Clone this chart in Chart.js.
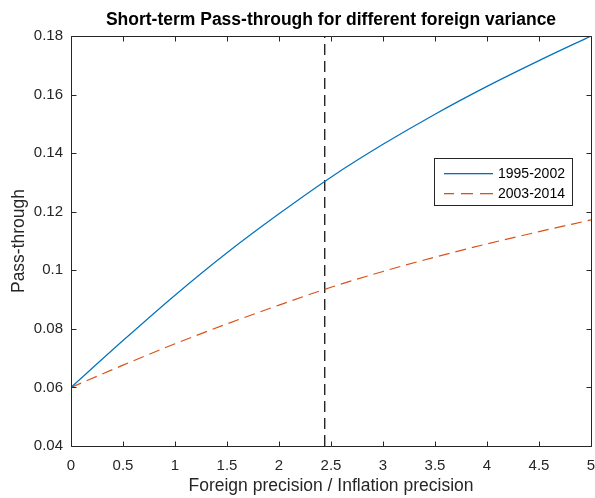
<!DOCTYPE html>
<html>
<head>
<meta charset="utf-8">
<script src="https://cdn.jsdelivr.net/npm/chart.js@4"></script>
<style>
html,body{margin:0;padding:0;background:#fff;}
#wrap{width:595px;height:498px;}
</style>
</head>
<body>
<div id="wrap"><canvas id="c" width="595" height="498"></canvas></div>
<script>
// ---- data ----
const xValues = [0, 0.5, 1, 1.5, 2, 2.5, 3, 3.5, 4, 4.5, 5];
const series1995 = [0.0600, 0.0760, 0.0915, 0.1060, 0.1193, 0.1318, 0.1430, 0.1533, 0.1628, 0.1716, 0.1800];
const series2003 = [0.0600, 0.0676, 0.0749, 0.0817, 0.0881, 0.0942, 0.0996, 0.1045, 0.1090, 0.1132, 0.1172];
const markerX = 2.44;
const seriesNames = ['1995-2002', '2003-2014'];
const xTicks = [0, 0.5, 1, 1.5, 2, 2.5, 3, 3.5, 4, 4.5, 5];
const yTicks = [0.04, 0.06, 0.08, 0.10, 0.12, 0.14, 0.16, 0.18];
const titleText = 'Short-term Pass-through for different foreign variance';
const xTitle = 'Foreign precision / Inflation precision';
const yTitle = 'Pass-through';

const BLUE = '#0072BD', ORANGE = '#D95319', AX = '#262626';
const FONT = "'Liberation Sans', Arial, Helvetica, sans-serif";

const toPts = (ys) => xValues.map((x, i) => ({x: x, y: ys[i]}));
const fmt = (v) => String(+(+v).toFixed(2));

const boxPlugin = {
  id: 'matlabBox',
  afterDatasetsDraw(chart) {
    const {ctx, chartArea: a, scales: {x, y}} = chart;
    ctx.save();
    ctx.setLineDash([]);
    ctx.strokeStyle = AX;
    ctx.lineWidth = 1;
    const L = Math.round(a.left) + 0.5, R = Math.round(a.right) + 0.5;
    const T = Math.round(a.top) + 0.5, B = Math.round(a.bottom) + 0.5;
    ctx.beginPath();
    ctx.rect(L, T, R - L, B - T);
    const tl = 5;
    xTicks.forEach(v => {
      const px = Math.round(x.getPixelForValue(v)) + 0.5;
      ctx.moveTo(px, B); ctx.lineTo(px, B - tl);
      ctx.moveTo(px, T); ctx.lineTo(px, T + tl);
    });
    yTicks.forEach(v => {
      const py = Math.round(y.getPixelForValue(v)) + 0.5;
      ctx.moveTo(L, py); ctx.lineTo(L + tl, py);
      ctx.moveTo(R, py); ctx.lineTo(R - tl, py);
    });
    ctx.stroke();

    // title centred over the plot area
    ctx.fillStyle = '#000';
    ctx.font = 'bold 17.5px ' + FONT;
    ctx.textAlign = 'center';
    ctx.textBaseline = 'middle';
    ctx.fillText(titleText, (a.left + a.right) / 2, 20);

    // legend
    const lx = 434.5, ly = 158.5, lw = 138, lh = 47;
    ctx.fillStyle = '#fff';
    ctx.fillRect(lx, ly, lw, lh);
    ctx.strokeStyle = AX;
    ctx.lineWidth = 1;
    ctx.strokeRect(lx, ly, lw, lh);
    const rows = [
      {name: seriesNames[0], color: BLUE, segs: [[444, 493]]},
      {name: seriesNames[1], color: ORANGE, segs: [[444, 454], [461, 473], [480, 493]]}
    ];
    ctx.font = '14px ' + FONT;
    ctx.textBaseline = 'middle';
    ctx.textAlign = 'left';
    rows.forEach((r, i) => {
      const cy = 173 + i * 20;
      ctx.fillStyle = r.color;
      r.segs.forEach(s => ctx.fillRect(s[0], cy, s[1] - s[0], 1.3));
      ctx.fillStyle = '#000';
      ctx.fillText(r.name, 498, cy + 1);
    });
    ctx.restore();
  }
};

new Chart(document.getElementById('c'), {
  type: 'line',
  data: {
    datasets: [
      {label: seriesNames[0], data: toPts(series1995), borderColor: BLUE, borderWidth: 1.2,
       pointRadius: 0, cubicInterpolationMode: 'monotone', fill: false},
      {label: seriesNames[1], data: toPts(series2003), borderColor: ORANGE, borderWidth: 1.2,
       borderDash: [11, 6], pointRadius: 0, cubicInterpolationMode: 'monotone', fill: false},
      {label: 'marker', data: [{x: markerX, y: yTicks[0]}, {x: markerX, y: yTicks[yTicks.length - 1]}],
       borderColor: '#000', borderWidth: 1.2, borderDash: [11, 6], pointRadius: 0, fill: false}
    ]
  },
  options: {
    responsive: false,
    animation: false,
    devicePixelRatio: 1,
    layout: {padding: {top: 36, right: 4, left: 0, bottom: 0}},
    plugins: {
      legend: {display: false},
      tooltip: {enabled: false},
      title: {display: false}
    },
    scales: {
      x: {
        type: 'linear', min: 0, max: 5,
        afterFit: (s) => { s.height = 52; s.paddingLeft = 0; s.paddingRight = 0; },
        afterBuildTicks: (s) => { s.ticks = xTicks.map(v => ({value: v})); },
        grid: {display: false, drawTicks: false},
        border: {display: false},
        ticks: {color: AX, font: {family: FONT, size: 15}, padding: 11, maxRotation: 0, autoSkip: false,
          callback: fmt},
        title: {display: true, text: xTitle, color: AX, font: {family: FONT, size: 17.5},
          padding: {top: 0, bottom: 1}}
      },
      y: {
        type: 'linear', min: 0.04, max: 0.18,
        afterFit: (s) => { s.width = 71; s.paddingTop = 0; s.paddingBottom = 0; },
        afterBuildTicks: (s) => { s.ticks = yTicks.map(v => ({value: v})); },
        grid: {display: false, drawTicks: false},
        border: {display: false},
        ticks: {color: AX, font: {family: FONT, size: 15}, padding: 8, autoSkip: false,
          callback: fmt},
        title: {display: true, text: yTitle, color: AX, font: {family: FONT, size: 17.5},
          padding: {top: 9, bottom: 0}}
      }
    }
  },
  plugins: [boxPlugin]
});
</script>
</body>
</html>
